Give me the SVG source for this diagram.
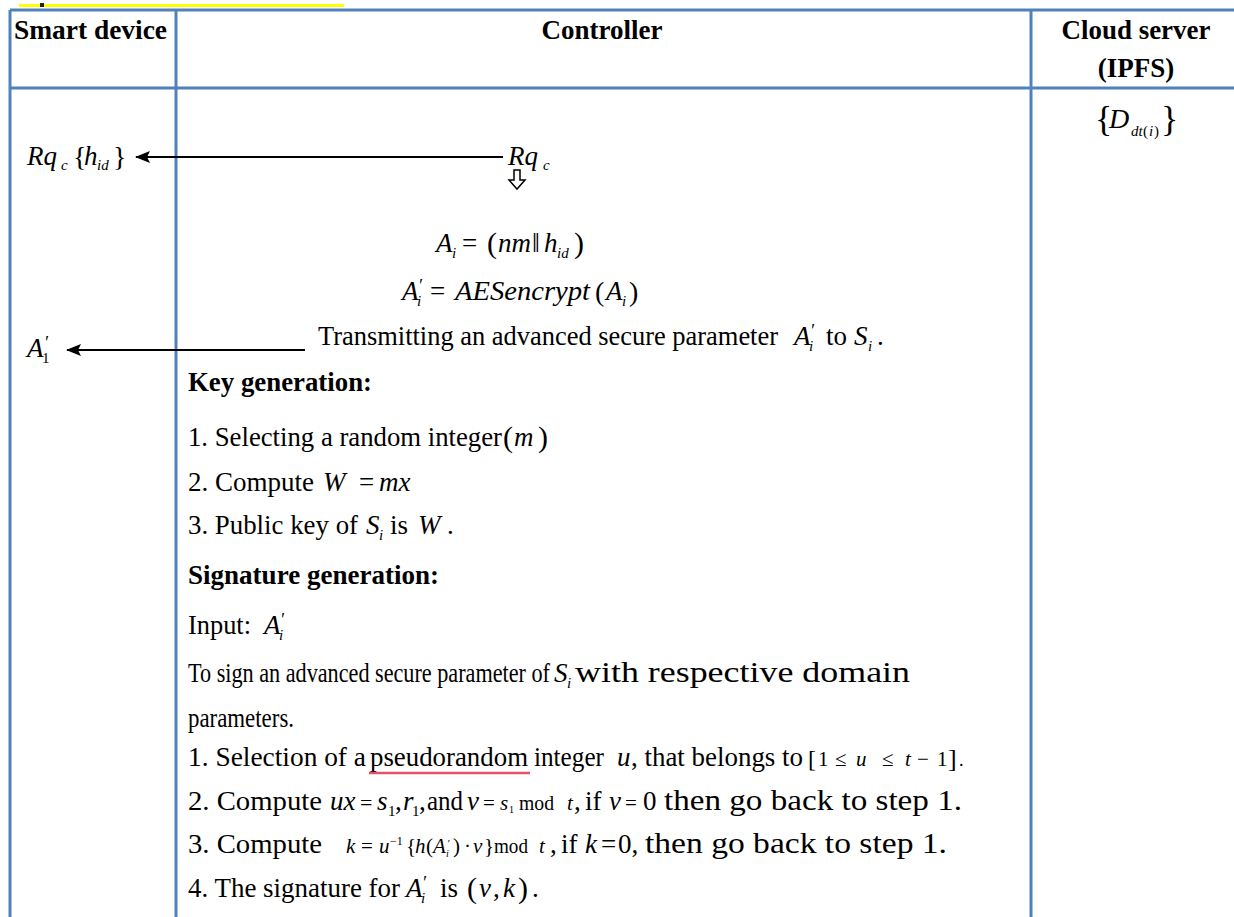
<svg xmlns="http://www.w3.org/2000/svg" width="1234" height="917" viewBox="0 0 1234 917" font-size="27">
<style>
text{font-family:"Liberation Serif","Times New Roman",serif;fill:#000}
.b{font-weight:bold}
.i{font-style:italic}
.sub{font-size:15px}
.sm{font-size:21px}
.pr{font-size:18px;font-style:italic}
.grid{stroke:#4F81BD;stroke-width:3;fill:none}
.conn{stroke:#000;stroke-width:2;fill:none}
</style>
<defs>
<marker id="ah" markerWidth="15" markerHeight="12" refX="14" refY="6" orient="auto" markerUnits="userSpaceOnUse">
<path d="M0,0 L15,6 L0,12 L3,6 Z" fill="#000"/>
</marker>
</defs>
<rect x="0" y="0" width="1234" height="917" fill="#fff"/>
<rect x="19" y="4" width="325" height="3" fill="#FFFF00"/>
<rect x="40" y="3" width="4" height="4" fill="#222"/>

<g id="table">
<line class="grid" x1="10" y1="10" x2="1234" y2="10"/>
<line class="grid" x1="10" y1="88" x2="1234" y2="88"/>
<line class="grid" x1="10" y1="10" x2="10" y2="917"/>
<line class="grid" x1="176" y1="10" x2="176" y2="917"/>
<line class="grid" x1="1031" y1="10" x2="1031" y2="917"/>
</g>

<g id="headers">
<text class="b" x="14" y="39" textLength="153" lengthAdjust="spacingAndGlyphs">Smart device</text>
<text class="b" x="602" y="39" text-anchor="middle" textLength="121" lengthAdjust="spacingAndGlyphs">Controller</text>
<text class="b" x="1136" y="39" text-anchor="middle" textLength="149" lengthAdjust="spacingAndGlyphs">Cloud server</text>
<text class="b" x="1136" y="77" text-anchor="middle">(IPFS)</text>
</g>

<g id="connectors">
<path class="conn" d="M503,157 L136,157" marker-end="url(#ah)"/>
<path class="conn" d="M305,350 L67,350" marker-end="url(#ah)"/>
<path d="M514,170 L520,170 L520,180 L525,180 L517,189 L509,180 L514,180 Z" fill="#fff" stroke="#000" stroke-width="1.5"/>
</g>

<g id="cloud-server">
<text x="1095" y="131" font-size="36">{</text>
<text class="i" x="1109" y="128" font-size="28">D</text>
<text class="i sub" x="1131" y="136">dt</text>
<text class="sub" x="1143" y="136">(</text>
<text class="i sub" x="1149" y="136">i</text>
<text class="sub" x="1154" y="136">)</text>
<text x="1161" y="131" font-size="36">}</text>
</g>

<g id="smart-device">
<text class="i" x="27" y="165">Rq</text>
<text class="i sub" x="61" y="170">c</text>
<text x="73" y="166" font-size="28">{</text>
<text class="i" x="84" y="165">h</text>
<text class="i sub" x="97" y="170">id</text>
<text x="113" y="166" font-size="28">}</text>
<text class="i" x="27" y="357">A</text>
<text class="pr" x="44" y="349">′</text>
<text class="sub" x="42" y="363" fill="#600">1</text>
</g>

<g id="controller">
<text class="i" x="508" y="165">Rq</text>
<text class="i sub" x="543" y="170">c</text>

<text class="i" x="436" y="252">A</text>
<text class="i sub" x="452" y="258">i</text>
<text x="462" y="252">=</text>
<text x="487" y="253" font-size="30">(</text>
<text class="i" x="498" y="252">nm</text>
<text x="532" y="252" font-size="28">‖</text>
<text class="i" x="544" y="252">h</text>
<text class="i sub" x="557" y="258">id</text>
<text x="574" y="253" font-size="30">)</text>

<text class="i" x="402" y="300">A</text>
<text class="pr" x="418" y="292">′</text>
<text class="i sub" x="417" y="306">i</text>
<text x="430" y="300">=</text>
<text class="i" x="455" y="300" textLength="135" lengthAdjust="spacingAndGlyphs">AESencrypt</text>
<text x="595" y="301" font-size="28">(</text>
<text class="i" x="606" y="300">A</text>
<text class="i sub" x="622" y="306">i</text>
<text x="629" y="301" font-size="28">)</text>

<text x="318" y="345" textLength="460" lengthAdjust="spacingAndGlyphs">Transmitting an advanced secure parameter</text>
<text class="i" x="794" y="345">A</text>
<text class="pr" x="810" y="337">′</text>
<text class="i sub" x="809" y="351">i</text>
<text x="826" y="345">to</text>
<text class="i" x="854" y="345">S</text>
<text class="i sub" x="868" y="351">i</text>
<text x="877" y="345">.</text>

<text class="b" x="188" y="391" textLength="184" lengthAdjust="spacingAndGlyphs">Key generation:</text>

<text x="188" y="446" textLength="314" lengthAdjust="spacingAndGlyphs">1. Selecting a random integer</text>
<text x="503" y="447" font-size="30">(</text>
<text class="i" x="514" y="446">m</text>
<text x="538" y="447" font-size="30">)</text>

<text x="188" y="491" textLength="126" lengthAdjust="spacingAndGlyphs">2. Compute</text>
<text class="i" x="323" y="491">W</text>
<text x="359" y="491">=</text>
<text class="i" x="379" y="491">mx</text>

<text x="188" y="534" textLength="170" lengthAdjust="spacingAndGlyphs">3. Public key of</text>
<text class="i" x="366" y="534">S</text>
<text class="i sub" x="379" y="540">i</text>
<text x="390" y="534">is</text>
<text class="i" x="418" y="534">W</text>
<text x="447" y="534">.</text>

<text class="b" x="188" y="584" textLength="251" lengthAdjust="spacingAndGlyphs">Signature generation:</text>

<text x="188" y="634" textLength="63" lengthAdjust="spacingAndGlyphs">Input:</text>
<text class="i" x="264" y="634">A</text>
<text class="pr" x="280" y="626">′</text>
<text class="i sub" x="279" y="640">i</text>

<text x="188" y="682" textLength="362" lengthAdjust="spacingAndGlyphs">To sign an advanced secure parameter of</text>
<text class="i" x="554" y="682">S</text>
<text class="i sub" x="567" y="688">i</text>
<text x="575" y="682" font-size="30" textLength="335" lengthAdjust="spacingAndGlyphs">with respective domain</text>

<text x="188" y="727" textLength="106" lengthAdjust="spacingAndGlyphs">parameters.</text>

<text x="188" y="766" textLength="178" lengthAdjust="spacingAndGlyphs">1. Selection of a</text>
<text x="370" y="766" textLength="158" lengthAdjust="spacingAndGlyphs">pseudorandom</text>
<text x="534" y="766" textLength="70" lengthAdjust="spacingAndGlyphs">integer</text>
<text class="i" x="617" y="766">u</text>
<text x="631" y="766" textLength="172" lengthAdjust="spacingAndGlyphs">, that belongs to</text>
<text x="808" y="767" font-size="24">[</text>
<text class="sm" x="818" y="766">1</text>
<text class="sm" x="835" y="766">≤</text>
<text class="sm i" x="856" y="766">u</text>
<text class="sm" x="882" y="766">≤</text>
<text class="sm i" x="905" y="766">t</text>
<text class="sm" x="917" y="766">−</text>
<text class="sm" x="937" y="766">1</text>
<text x="948" y="767" font-size="26">]</text>
<text x="959" y="766" font-size="18">.</text>

<text x="188" y="810" textLength="134" lengthAdjust="spacingAndGlyphs">2. Compute</text>
<text class="i" x="330" y="810">ux</text>
<text x="360" y="810" font-size="22">=</text>
<text class="i" x="377" y="810">s</text>
<text class="sub" x="388" y="816">1</text>
<text x="395" y="810">,</text>
<text class="i" x="403" y="810">r</text>
<text class="sub" x="412" y="816">1</text>
<text x="419" y="810">,</text>
<text x="427" y="810" textLength="36" lengthAdjust="spacingAndGlyphs">and</text>
<text class="i" x="467" y="810">v</text>
<text class="sm" x="483" y="810">=</text>
<text class="sm i" x="500" y="810">s</text>
<text x="509" y="813" font-size="10">1</text>
<text class="sm" x="519" y="810" textLength="35" lengthAdjust="spacingAndGlyphs">mod</text>
<text class="sm i" x="567" y="810">t</text>
<text x="574" y="810">,</text>
<text x="585" y="810">if</text>
<text class="i" x="609" y="810">v</text>
<text class="sm" x="625" y="810">=</text>
<text x="643" y="810">0</text>
<text x="664" y="810" font-size="29" textLength="298" lengthAdjust="spacingAndGlyphs">then go back to step 1.</text>

<text x="188" y="853" textLength="134" lengthAdjust="spacingAndGlyphs">3. Compute</text>
<text class="sm i" x="346" y="853">k</text>
<text class="sm" x="361" y="853">=</text>
<text class="sm i" x="379" y="853">u</text>
<text x="390" y="845" font-size="12">−1</text>
<text class="sm" x="406" y="853">{</text>
<text class="sm i" x="415" y="853">h</text>
<text class="sm" x="426" y="853">(</text>
<text class="sm i" x="433" y="853">A</text>
<text x="447" y="847" font-size="11" font-style="italic">′</text>
<text x="446" y="857" font-size="10" font-style="italic">i</text>
<text class="sm" x="453" y="853">)</text>
<text class="sm" x="464" y="853">·</text>
<text class="sm i" x="473" y="853">v</text>
<text class="sm" x="484" y="853">}</text>
<text class="sm" x="494" y="853" textLength="34" lengthAdjust="spacingAndGlyphs">mod</text>
<text class="sm i" x="539" y="853">t</text>
<text x="550" y="853">,</text>
<text x="561" y="853">if</text>
<text class="i" x="585" y="853">k</text>
<text x="601" y="853">=</text>
<text x="618" y="853">0,</text>
<text x="645" y="853" font-size="29" textLength="302" lengthAdjust="spacingAndGlyphs">then go back to step 1.</text>

<text x="188" y="897" textLength="212" lengthAdjust="spacingAndGlyphs">4. The signature for</text>
<text class="i" x="406" y="897">A</text>
<text class="pr" x="422" y="889">′</text>
<text class="i sub" x="421" y="903">i</text>
<text x="440" y="897">is</text>
<text x="467" y="898" font-size="30">(</text>
<text class="i" x="479" y="897">v</text>
<text x="493" y="897">,</text>
<text class="i" x="503" y="897">k</text>
<text x="518" y="898" font-size="30">)</text>
<text x="532" y="897">.</text>
</g>

<g id="annotations">
<line x1="369" y1="773" x2="530" y2="773" stroke="#E4506E" stroke-width="2.5"/>
</g>
</svg>
